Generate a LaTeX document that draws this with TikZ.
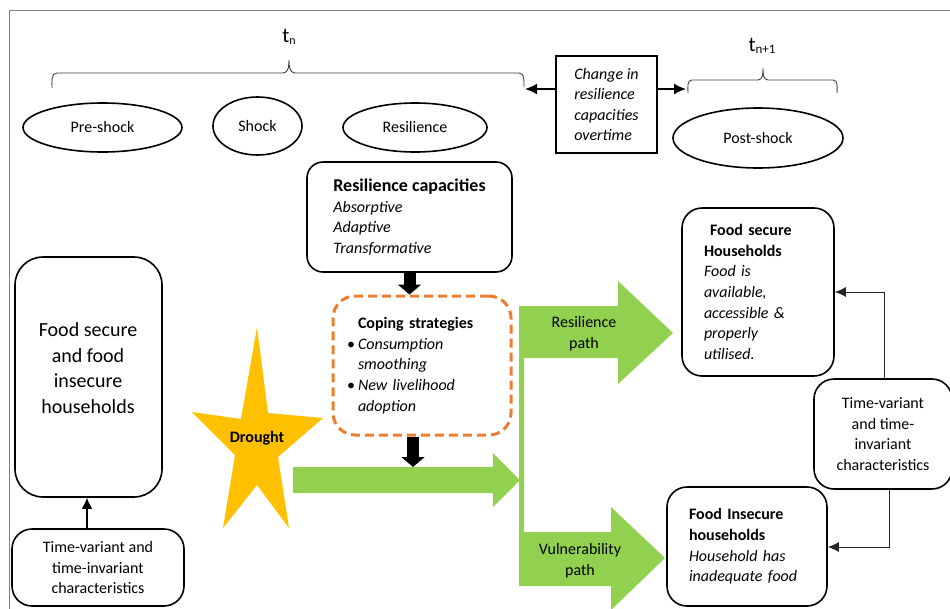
\documentclass[tikz,border=0pt]{standalone}
\usepackage{fontspec}
\setmainfont{Carlito}
\usetikzlibrary{arrows.meta,shapes.geometric}
\definecolor{lgreen}{HTML}{92D050}
\definecolor{dorange}{HTML}{ED7D31}
\definecolor{dyellow}{HTML}{FFC000}
\definecolor{framegray}{HTML}{7F7F7F}
\begin{document}
\begin{tikzpicture}[x=1pt,y=-1pt,
  font=\fontsize{16}{20.6}\selectfont,
  ell/.style={draw, ellipse, line width=1.6pt, inner sep=0pt},
  rbox/.style={draw, line width=1.6pt},
  sqbox/.style={draw, line width=1.6pt},
  bracepath/.style={draw=black!75, line width=0.9pt},
  blarrow/.style={line width=1.6pt, -{Latex[length=12pt,width=11pt]}},
  fatarrow/.style={line width=12pt, -{Triangle[length=10pt,width=23pt]}},
  conn/.style={draw=black!85, line width=1pt, -{Latex[length=11pt,width=10pt]}},
  conn2/.style={line width=1.6pt, -{Latex[length=11pt,width=11pt]}}]
\useasboundingbox (0,0) rectangle (950,608);
\clip (0,0) rectangle (950,608);
% frame
\draw[framegray, line width=0.8pt] (9,610) -- (9,10) -- (950,10);
% time labels
\node (tn) at (289,37) {\fontsize{21}{24}\selectfont t\raisebox{-1.5pt}{\fontsize{12}{14}\selectfont n}};
\node (tn1) at (762,46) {\fontsize{21}{24}\selectfont t\raisebox{-1.5pt}{\fontsize{13}{14}\selectfont n+1}};
% braces
\draw[bracepath] (52,88) to[out=90,in=180] (57,73) -- (283,73) to[out=0,in=-90] (289,60) to[out=-90,in=180] (295,73) -- (519,73) to[out=0,in=90] (524,87);
\draw[bracepath] (688,93) to[out=90,in=180] (692,80) -- (758,80) to[out=0,in=-90] (763,68) to[out=-90,in=180] (768,80) -- (833,80) to[out=0,in=90] (837,93);
% ellipses
\node[ell, minimum width=159pt, minimum height=49pt] (pre) at (102.5,127.5) {Pre-shock};
\node[ell, minimum width=89pt, minimum height=58pt] (shock) at (257.5,126) {Shock};
\node[ell, minimum width=144pt, minimum height=49pt] (res) at (415,127.5) {Resilience};
\node[ell, minimum width=170pt, minimum height=60pt] (post) at (758,138) {Post-shock};
% change box
\node[sqbox, minimum width=101pt, minimum height=97pt, align=left] (chg) at (606.5,104.5) {\textit{Change in}\\\textit{resilience}\\\textit{capacities}\\\textit{overtime}};
\coordinate (b1end) at (525,89);
\coordinate (b2end) at (686,89);
\draw[blarrow] (chg.west |- b1end) -- (b1end);
\draw[blarrow] (chg.east |- b2end) -- (b2end);
% green shapes
\fill[lgreen] (293,467) -- (493,467) -- (493,453) -- (520,480) -- (493,507) -- (493,493) -- (293,493) -- cycle;
\fill[lgreen] (519,306) -- (618,306) -- (618,281) -- (673,333) -- (618,384) -- (618,358) -- (524,358) -- (524,532) -- (611,532) -- (611,507) -- (665,558) -- (611,610) -- (611,586) -- (519,586) -- cycle;
\node[align=center] (rpath) at (584,334) {Resilience\\path};
\node[align=center] (vpath) at (580,561) {Vulnerability\\path};
% resilience capacities
\node[rbox, rounded corners=16pt, minimum width=205pt, minimum height=110pt, align=left] (rc) at (409.5,217) {{\fontsize{18}{20.6}\selectfont\bfseries Resilience capacities}\\\textit{Absorptive}\\\textit{Adaptive}\\\textit{Transformative}};
% coping strategies
\node[draw=dorange, line width=3pt, dash pattern=on 9pt off 5pt, rounded corners=22pt, minimum width=178pt, minimum height=139pt, text width=150pt, align=left] (cop) at (422,365.5) {\hspace*{11pt}\textbf{Coping strategies}\\\makebox[11pt][l]{\textbullet}\textit{Consumption}\\\hspace*{11pt}\textit{smoothing}\\\makebox[11pt][l]{\textbullet}\textit{New livelihood}\\\hspace*{11pt}\textit{adoption}};
\draw[fatarrow] (rc.south) -- (rc.south |- cop.north);
\coordinate (gtop) at (413,467);
\draw[fatarrow] (cop.south -| gtop) -- (gtop);
% star
\fill[dyellow] (257,327) -- (268,413) -- (323,418) -- (278,457) -- (289,528) -- (257,485) -- (223,528) -- (235,455) -- (192,412) -- (241,419) -- cycle;
\node[font=\fontsize{16}{20.6}\selectfont\bfseries] (drought) at (257,438) {Drought};
% left boxes
\node[rbox, rounded corners=28pt, minimum width=147pt, minimum height=240pt] (lb) at (88.5,377) {};
\node[font=\fontsize{20}{25.7}\selectfont, align=center] (lbt) at (88,368) {Food secure\\and food\\insecure\\households};
\node[rbox, rounded corners=20pt, minimum width=172pt, minimum height=77pt, align=center] (bl) at (98,567.5) {Time-variant and\\time-invariant\\characteristics};
\coordinate (c3) at (87,529);
\draw[conn2] (bl.north -| c3) -- (lb.south -| c3);
% right side
\node[rbox, rounded corners=20pt, minimum width=152pt, minimum height=168pt, text width=108pt, align=left] (fs) at (758,292) {\hspace*{6pt}\textbf{Food secure}\\\textbf{Households}\\\textit{Food is}\\\textit{available,}\\\textit{accessible \&}\\\textit{properly}\\\textit{utilised.}};
\node[rbox, rounded corners=20pt, minimum width=160pt, minimum height=119pt, text width=116pt, align=left] (fi) at (747,546.5) {\textbf{Food Insecure}\\\textbf{households}\\\textit{Household has}\\\textit{inadequate food}};
\node[rbox, rounded corners=20pt, minimum width=138pt, minimum height=110pt, align=center] (tvr) at (883,434) {Time-variant\\and time-\\invariant\\characteristics};
\coordinate (c1) at (884,292);
\coordinate (c2) at (889,547);
\draw[conn] (tvr.north -| c1) |- (fs.east |- c1);
\draw[conn] (tvr.south -| c2) |- (fi.east |- c2);
\end{tikzpicture}
\end{document}
